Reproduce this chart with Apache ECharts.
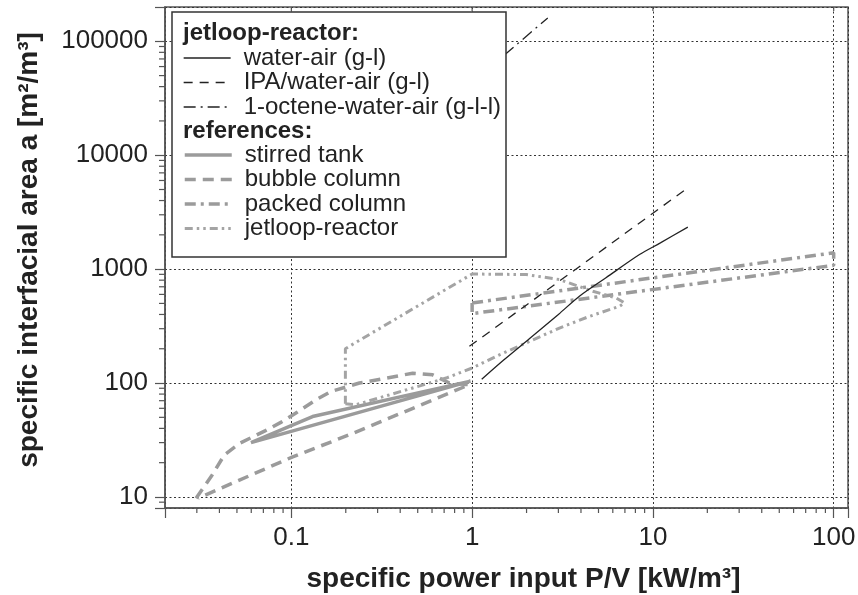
<!DOCTYPE html>
<html><head><meta charset="utf-8">
<script src="https://cdn.jsdelivr.net/npm/echarts@6/dist/echarts.min.js"></script>
<style>html,body{margin:0;padding:0;background:#fff}#c{width:858px;height:595px}</style>
</head><body><div id="c"></div>
<script>
// ---- axis ticks ----
const xTicks = [0.1, 1, 10, 100];
const xTickLabels = ['0.1', '1', '10', '100'];
const yTicks = [10, 100, 1000, 10000, 100000];
const yTickLabels = ['10', '100', '1000', '10000', '100000'];
const xMinorTicks = [0.03,0.04,0.05,0.06,0.07,0.08,0.09, 0.2,0.3,0.4,0.5,0.6,0.7,0.8,0.9,
                     2,3,4,5,6,7,8,9, 20,30,40,50,60,70,80,90];
const yMinorTicks = [9, 20,30,40,50,60,70,80,90, 200,300,400,500,600,700,800,900,
                     2000,3000,4000,5000,6000,7000,8000,9000, 20000,30000,40000,50000,60000,70000,80000,90000];
const xMin = 0.02, xMax = 120, yMin = 8, yMax = 200000;

// ---- jetloop-reactor (this work) ----
const waterAir = [[1.13,108],[1.5,160],[2.08,246],[3.0,400],[3.92,578],[5.5,840],[8.43,1343],[11,1700],[15.6,2340]];
const ipaWaterAir = [[0.966,210],[2,485],[5,1393],[10,3097],[15.8,5250]];
const octeneWaterAir = [[1.2,55000],[1.59,81500],[2.62,160000]];

// ---- references ----
const stirredTank = [[0.98,104],[0.0598,30],[0.131,50.8],[0.98,104]];
const bubbleColumn = [[0.0297,9.75],[0.036,15.1],[0.0426,23.4],[0.052,29.7],[0.0715,38],[0.088,45.4],[0.106,54.5],
                      [0.137,71.3],[0.166,84.4],[0.238,100],[0.469,122],[0.605,118],[0.749,100],[0.966,96.7],
                      [0.209,35.1],[0.1017,22.5],[0.0305,9.75]];
const packedColumn = [[1,505],[100,1391],[100,1080],[1,407],[1,505]];
const jetloopRef = [[0.199,65.8],[0.199,200],[0.209,210],[1.0,906],[1.99,896],[3.04,810],[4.65,639],[6.26,559],
                    [6.96,505],[6.53,472],[4.46,385],[3.04,304],[1.99,225],[1.416,177],[1.0,135.5],[0.718,110.6],
                    [0.228,64.5],[0.199,65.8]];

const FONT = '"Liberation Sans", Arial, sans-serif';
const GRAY = '#9b9b9b';
const LGRAY = '#a4a4a4';
const BLACK = '#222';

function nearestLabel(v, ticks, labels) {
  const lv = Math.log10(v);
  for (let i = 0; i < ticks.length; i++) {
    if (Math.abs(Math.log10(ticks[i]) - lv) < 1e-6) return labels[i];
  }
  return '';
}

function tickSeries(values, axis, len, inward) {
  return {
    type: 'custom', silent: true, z: 6,
    data: values.map(v => axis === 'x' ? [v, inward ? yMax : yMin] : [xMin, v]),
    renderItem: function (params, api) {
      const p = api.coord([api.value(0), api.value(1)]);
      let x2 = p[0], y2 = p[1];
      if (axis === 'x') y2 = p[1] + len; else x2 = p[0] - len;
      return { type: 'line', shape: { x1: p[0], y1: p[1], x2: x2, y2: y2 },
               style: { stroke: '#555', lineWidth: 1.2 } };
    }
  };
}

const chart = echarts.init(document.getElementById('c'), null, { renderer: 'canvas' });
const lineBase = { type: 'line', showSymbol: false, symbol: 'none', silent: true, smooth: false };
const legendBase = { orient: 'vertical', left: 183, padding: 0, itemWidth: 47, itemHeight: 14, itemGap: 0.5,
  selectedMode: false, z: 6, itemStyle: { opacity: 0 },
  textStyle: { fontSize: 24, fontFamily: FONT, color: BLACK, lineHeight: 24, padding: [0, 0, 0, 8] } };

chart.setOption({
  animation: false,
  backgroundColor: '#fff',
  grid: { left: 165, right: 10, top: 7, bottom: 87, show: true, borderColor: '#555', borderWidth: 1.5,
          outerBoundsMode: 'none', containLabel: false },
  xAxis: {
    type: 'log', min: xMin, max: xMax,
    axisLine: { show: true, lineStyle: { color: '#555', width: 1.5 } },
    axisTick: { show: true, length: 10, lineStyle: { color: '#555', width: 1.2 } },
    axisLabel: { fontSize: 26, fontFamily: FONT, color: '#222', margin: 17,
                 formatter: v => nearestLabel(v, xTicks, xTickLabels) },
    splitLine: { show: true, lineStyle: { color: '#333', width: 1, type: [2, 2.5] } },
    name: 'specific power input P/V [kW/m³]',
    nameLocation: 'middle', nameGap: 57,
    nameTextStyle: { fontSize: 28, fontWeight: 'bold', fontFamily: FONT, color: '#222', padding: [0, 0, 0, 34] }
  },
  yAxis: {
    type: 'log', min: yMin, max: yMax,
    axisLine: { show: true, lineStyle: { color: '#555', width: 1.5 } },
    axisTick: { show: true, length: 10, lineStyle: { color: '#555', width: 1.2 } },
    axisLabel: { fontSize: 26, fontFamily: FONT, color: '#222', margin: 17,
                 formatter: v => nearestLabel(v, yTicks, yTickLabels) },
    splitLine: { show: true, lineStyle: { color: '#333', width: 1, type: [2, 2.5] } },
    name: 'specific interfacial area a [m²/m³]',
    nameLocation: 'middle', nameGap: 122, nameRotate: 90,
    nameTextStyle: { fontSize: 28, fontWeight: 'bold', fontFamily: FONT, color: '#222', padding: [0, 0, 0, 15] }
  },
  legend: [
    Object.assign({}, legendBase, { top: 46,
      data: [
        { name: 'water-air (g-l)', lineStyle: { width: 1.3 } },
        { name: 'IPA/water-air (g-l)', lineStyle: { width: 1.3 } },
        { name: '1-octene-water-air (g-l-l)', lineStyle: { width: 1.3 } }
      ] }),
    Object.assign({}, legendBase, { top: 143,
      data: [
        { name: 'stirred tank', lineStyle: { width: 3.5 } },
        { name: 'bubble column', lineStyle: { width: 3.5 } },
        { name: 'packed column', lineStyle: { width: 3.5 } },
        { name: 'jetloop-reactor', lineStyle: { width: 3 } }
      ] })
  ],
  graphic: [
    { type: 'rect', z: 5, shape: { x: 172, y: 12, width: 334, height: 245 },
      style: { fill: '#fff', stroke: '#333', lineWidth: 1.5 } },
    { type: 'text', z: 6, x: 183, y: 33,
      style: { text: 'jetloop-reactor:', font: 'bold 24px ' + FONT, fill: BLACK, verticalAlign: 'middle' } },
    { type: 'text', z: 6, x: 183, y: 131,
      style: { text: 'references:', font: 'bold 24px ' + FONT, fill: BLACK, verticalAlign: 'middle' } }
  ],
  series: [
    Object.assign({}, lineBase, { name: 'stirred tank', data: stirredTank,
      lineStyle: { color: GRAY, width: 3.5, type: 'solid' }, itemStyle: { color: GRAY } }),
    Object.assign({}, lineBase, { name: 'bubble column', data: bubbleColumn,
      lineStyle: { color: GRAY, width: 3.5, type: [11, 7] }, itemStyle: { color: GRAY } }),
    Object.assign({}, lineBase, { name: 'packed column', data: packedColumn,
      lineStyle: { color: GRAY, width: 3.5, type: [11, 5, 3, 5] }, itemStyle: { color: GRAY } }),
    Object.assign({}, lineBase, { name: 'jetloop-reactor', data: jetloopRef,
      lineStyle: { color: LGRAY, width: 3, type: [8, 4, 2.5, 4, 2.5, 4] }, itemStyle: { color: LGRAY } }),
    Object.assign({}, lineBase, { name: 'water-air (g-l)', data: waterAir, smooth: 0.3,
      lineStyle: { color: BLACK, width: 1.3, type: 'solid' }, itemStyle: { color: BLACK } }),
    Object.assign({}, lineBase, { name: 'IPA/water-air (g-l)', data: ipaWaterAir,
      lineStyle: { color: BLACK, width: 1.3, type: [9, 7] }, itemStyle: { color: BLACK } }),
    Object.assign({}, lineBase, { name: '1-octene-water-air (g-l-l)', data: octeneWaterAir,
      lineStyle: { color: BLACK, width: 1.3, type: [12, 5, 2, 5] }, itemStyle: { color: BLACK } }),
    tickSeries(xMinorTicks, 'x', 5, false),
    tickSeries(yMinorTicks, 'y', 6, false),
    tickSeries(xTicks, 'x', 4, true)
  ]
});
</script></body></html>
